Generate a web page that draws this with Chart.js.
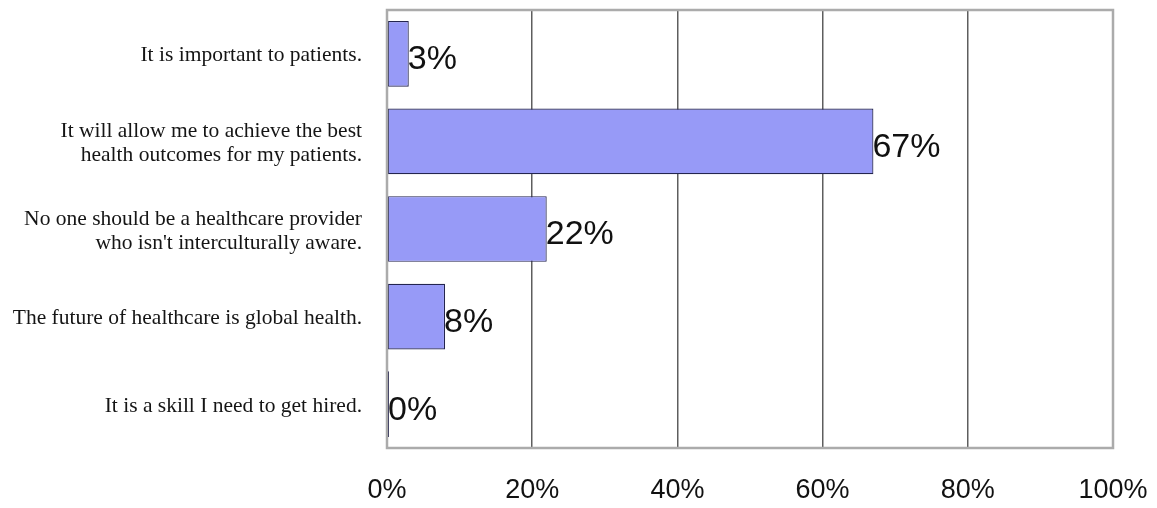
<!DOCTYPE html>
<html>
<head>
<meta charset="utf-8">
<script src="https://cdn.jsdelivr.net/npm/chart.js@4/dist/chart.umd.min.js"></script>
<style>
  html, body { margin: 0; padding: 0; background: #fff; }
  #wrap { width: 1157px; height: 508px; position: relative; }
</style>
</head>
<body>
<div id="wrap"><canvas id="c"></canvas></div>
<script>
// Survey answers and the share of respondents choosing each one (%)
const categories = [
  ["It is important to patients."],
  ["It will allow me to achieve the best", "health outcomes for my patients."],
  ["No one should be a healthcare provider", "who isn't interculturally aware."],
  ["The future of healthcare is global health."],
  ["It is a skill I need to get hired."]
];
const shares = [3, 67, 22, 8, 0];
const xTicks = [0, 20, 40, 60, 80, 100];

// Writes each bar's percentage just past its end
const valueLabels = {
  id: 'valueLabels',
  afterDatasetsDraw(chart) {
    const ctx = chart.ctx;
    const meta = chart.getDatasetMeta(0);
    ctx.save();
    ctx.font = '34px "Liberation Sans", Arial, sans-serif';
    ctx.fillStyle = '#111';
    ctx.textAlign = 'left';
    ctx.textBaseline = 'middle';
    meta.data.forEach((bar, i) => {
      const v = chart.data.datasets[0].data[i];
      ctx.fillText(v + '%', bar.x - 1, bar.y + 6);
    });
    ctx.restore();
  }
};

// Grey frame round the plotting area
const plotFrame = {
  id: 'plotFrame',
  afterDraw(chart) {
    const a = chart.chartArea;
    const ctx = chart.ctx;
    ctx.save();
    ctx.strokeStyle = '#ababab';
    ctx.lineWidth = 2.5;
    ctx.strokeRect(a.left, a.top, a.right - a.left, a.bottom - a.top);
    ctx.restore();
  }
};

new Chart(document.getElementById('c'), {
  type: 'bar',
  data: {
    labels: categories,
    datasets: [{
      data: shares,
      backgroundColor: '#979af7',
      borderColor: '#24254f',
      borderWidth: 1.2,
      borderSkipped: false,
      minBarLength: 2,
      barPercentage: 0.75,
      categoryPercentage: 1.0
    }]
  },
  options: {
    indexAxis: 'y',
    responsive: true,
    maintainAspectRatio: false,
    animation: false,
    layout: { padding: { top: 10, right: 44, left: 0, bottom: 0 } },
    plugins: {
      legend: { display: false },
      tooltip: { enabled: false }
    },
    scales: {
      x: {
        min: 0,
        max: 100,
        afterBuildTicks(scale) {
          scale.ticks = xTicks.map(v => ({ value: v }));
        },
        afterFit(scale) {
          scale.height = 60;
          scale.paddingLeft = 0;
          scale.paddingRight = 0;
        },
        grid: {
          drawTicks: false,
          color: (c) => (c.tick && (c.tick.value === 0 || c.tick.value === 100)) ? 'rgba(0,0,0,0)' : '#5e5e5e',
          lineWidth: 1.5
        },
        border: { display: false },
        ticks: {
          padding: 26,
          color: '#111',
          font: { family: '"Liberation Sans", Arial, sans-serif', size: 27 },
          callback: (v) => v + '%'
        }
      },
      y: {
        afterFit(scale) {
          scale.width = 387;
          scale.paddingTop = 0;
          scale.paddingBottom = 0;
        },
        grid: { display: false, drawTicks: false },
        border: { display: false },
        ticks: {
          padding: 25,
          labelOffset: 2,
          color: '#151515',
          font: { family: '"Liberation Serif", "Times New Roman", serif', size: 21.5, lineHeight: 1.12 }
        }
      }
    }
  },
  plugins: [valueLabels, plotFrame]
});
</script>
</body>
</html>
